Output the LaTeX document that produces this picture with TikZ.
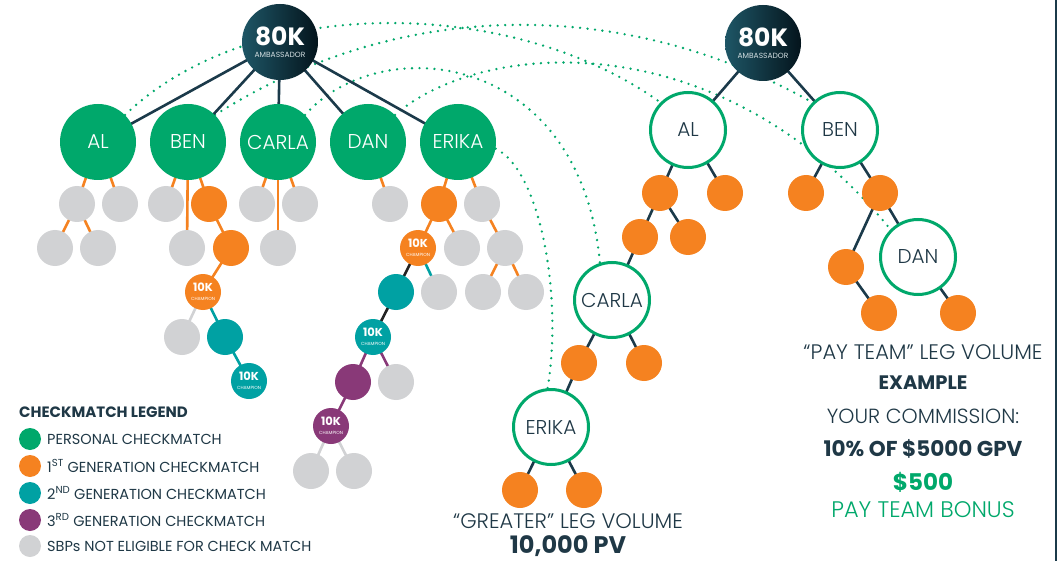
\documentclass[tikz,border=0pt]{standalone}
\usepackage{fontspec}
\setmainfont{Poppins}
\IfFontExistsTF{Poppins Light}{\newfontfamily\lightfont{Poppins Light}}{\newfontfamily\lightfont{Poppins}}
\definecolor{cgreen}{RGB}{0,168,107}
\definecolor{corange}{RGB}{245,130,32}
\definecolor{cteal}{RGB}{0,161,163}
\definecolor{cpurple}{RGB}{137,57,120}
\definecolor{cgray}{RGB}{209,210,212}
\definecolor{cnavy}{RGB}{27,58,74}
\definecolor{ctext}{RGB}{31,56,70}
\definecolor{ambA}{RGB}{30,86,102}
\definecolor{ambB}{RGB}{4,20,28}
\definecolor{cblack}{RGB}{35,35,35}
\pgfdeclarelayer{bg}
\pgfsetlayers{bg,main}
\tikzset{
  sm/.style={circle, minimum size=36pt, inner sep=0pt},
  gy/.style={sm, fill=cgray},
  og/.style={sm, fill=corange},
  tl/.style={sm, fill=cteal},
  pu/.style={sm, fill=cpurple},
  champ/.style={align=center, text=white},
  gn/.style={circle, minimum size=76pt, inner sep=0pt, fill=cgreen, text=white, font=\lightfont\fontsize{20}{20}\selectfont},
  ring/.style={circle, minimum size=75pt, inner sep=0pt, fill=white, draw=cgreen, line width=3pt, text=ctext, font=\lightfont\fontsize{20}{20}\selectfont},
  amb/.style={circle, minimum size=76pt, inner sep=0pt, left color=ambA, right color=ambB, align=center, text=white},
  ledge/.style={line width=2.6pt},
  oe/.style={ledge, corange},
  ge/.style={ledge, cgray},
  te/.style={ledge, cteal},
  pe/.style={ledge, cpurple},
  ke/.style={ledge, cblack},
  ne/.style={ledge, cnavy},
  greendots/.style={cgreen, line width=2.6pt, line cap=round, dash pattern=on 0pt off 7.5pt},
  lgc/.style={circle, minimum size=22pt, inner sep=0pt},
  lgt/.style={anchor=west, text=ctext, font=\fontsize{14.5}{15}\selectfont, inner sep=0pt},
  txt/.style={text=ctext, inner sep=0pt},
}
\newcommand{\ambtext}{{\fontsize{25}{25}\selectfont\bfseries 80K}\\[0pt]{\fontsize{7.5}{8}\selectfont\color{white!80!ambA}AMBASSADOR}}
\newcommand{\champtext}{{\fontsize{11.5}{11.5}\selectfont\bfseries 10K}\\[-3pt]{\fontsize{4.5}{5}\selectfont CHAMPION}}
\begin{document}
\begin{tikzpicture}[x=1pt,y=-1pt]
\useasboundingbox (0,0) rectangle (1059,561);
% ---------- left tree ----------
\node[amb] (amL) at (280,42) {\ambtext};
\node[gn] (lAL) at (98,142) {AL};
\node[gn] (lBEN) at (188,142) {BEN};
\node[gn] (lCARLA) at (278,142) {CARLA};
\node[gn] (lDAN) at (368,142) {DAN};
\node[gn] (lERIKA) at (458,142) {ERIKA};
% AL
\node[gy] (a1) at (77,204) {};
\node[gy] (a2) at (120,204) {};
\node[gy] (a3) at (55,248) {};
\node[gy] (a4) at (98,248) {};
% BEN
\node[gy] (b1) at (166,204) {};
\node[gy] (b2) at (187,248) {};
\node[og] (b3) at (209,204) {};
\node[og] (b4) at (231,248) {};
\node[og,champ] (b5) at (203,292) {\champtext};
\node[gy] (b6) at (182,337) {};
\node[tl] (b7) at (225,337) {};
\node[tl,champ] (b8) at (249,381) {\champtext};
% CARLA
\node[gy] (c1) at (257,204) {};
\node[gy] (c2) at (300,204) {};
\node[gy] (c3) at (278,248) {};
% DAN
\node[gy] (d1) at (390,204) {};
% ERIKA
\node[og] (e1) at (439,204) {};
\node[gy] (e2) at (482,204) {};
\node[og,champ] (e3) at (418,248) {\champtext};
\node[gy] (e4) at (462,248) {};
\node[gy] (e5) at (505,248) {};
\node[tl] (e6) at (396,292) {};
\node[gy] (e7) at (439,292) {};
\node[gy] (e8) at (483,292) {};
\node[gy] (e9) at (526,292) {};
\node[tl,champ] (e10) at (373,337) {\champtext};
\node[pu] (e11) at (353,382) {};
\node[gy] (e12) at (396,382) {};
\node[pu,champ] (e13) at (331,426) {\champtext};
\node[gy] (e14) at (311,471) {};
\node[gy] (e15) at (354,471) {};
% ---------- right tree ----------
\node[amb] (amR) at (763,43) {\ambtext};
\node[ring] (rAL) at (688,130) {AL};
\node[ring] (rBEN) at (840,130) {BEN};
\node[og] (ra1) at (660,193) {};
\node[og] (ra2) at (725,193) {};
\node[og] (ra3) at (640,237) {};
\node[og] (ra4) at (688,237) {};
\node[ring] (rCARLA) at (612,300) {CARLA};
\node[og] (rc1) at (579,363) {};
\node[og] (rc2) at (644,363) {};
\node[ring] (rERIKA) at (551,427) {ERIKA};
\node[og] (re1) at (520,490) {};
\node[og] (re2) at (584,490) {};
\node[og] (rb1) at (806,193) {};
\node[og] (rb2) at (880,193) {};
\node[og] (rb3) at (846,267) {};
\node[ring] (rDAN) at (918,257) {DAN};
\node[og] (rb4) at (879,313) {};
\node[og] (rd1) at (958,313) {};
% ---------- texts ----------
\node[txt, font=\lightfont\fontsize{21}{21}\selectfont] (t1) at (923,352) {“PAY TEAM” LEG VOLUME};
\node[txt, font=\fontsize{19.5}{19.5}\selectfont\bfseries] (t2) at (923,383) {EXAMPLE};
\node[txt, font=\lightfont\fontsize{20.5}{20.5}\selectfont] (t3) at (923,416) {YOUR COMMISSION:};
\node[txt, font=\fontsize{21.5}{21.5}\selectfont\bfseries] (t4) at (923,449) {10\% OF \$5000 GPV};
\node[txt, text=cgreen, font=\fontsize{23}{23}\selectfont\bfseries] (t5) at (923,482) {\$500};
\node[txt, text=cgreen, font=\lightfont\fontsize{22.5}{22.5}\selectfont] (t6) at (923,510) {PAY TEAM BONUS};
\node[txt, font=\lightfont\fontsize{21}{21}\selectfont] (t7) at (568,521) {“GREATER” LEG VOLUME};
\node[txt, font=\fontsize{24}{24}\selectfont\bfseries] (t8) at (568,546) {10,000 PV};
% ---------- legend ----------
\node[txt, anchor=west, font=\fontsize{15}{15}\selectfont\bfseries] (lgh) at (19,412) {CHECKMATCH LEGEND};
\node[lgc, fill=cgreen] (lg1) at (30,439) {};
\node[lgc, fill=corange] (lg2) at (30,466) {};
\node[lgc, fill=cteal] (lg3) at (30,493) {};
\node[lgc, fill=cpurple] (lg4) at (30,520) {};
\node[lgc, fill=cgray] (lg5) at (30,546) {};
\node[lgt] (lt1) at (47,439) {PERSONAL CHECKMATCH};
\node[lgt] (lt2) at (47,466) {1\textsuperscript{ST} GENERATION CHECKMATCH};
\node[lgt] (lt3) at (47,493) {2\textsuperscript{ND} GENERATION CHECKMATCH};
\node[lgt] (lt4) at (47,520) {3\textsuperscript{RD} GENERATION CHECKMATCH};
\node[lgt] (lt5) at (47,546) {SBPs NOT ELIGIBLE FOR CHECK MATCH};
% ---------- background layer: connectors ----------
\begin{pgfonlayer}{bg}
\fill[white] (0,0) rectangle (1059,561);
\draw[cnavy, line width=2pt] (1056,0) -- (1056,561);
% dotted curves
\draw[greendots] (lAL.45) .. controls (254,-9) and (516,-2) .. (rAL.135);
\draw[greendots] (lBEN.45) .. controls (400,-3) and (625,-3) .. (rBEN.135);
\draw[greendots] (lCARLA.45) .. controls (380,30) and (580,50) .. (rCARLA.108);
\draw[greendots] (lDAN.45) .. controls (480,40) and (720,20) .. (rDAN.135);
\draw[greendots] (lERIKA.-10) .. controls (540,170) and (563,295) .. (rERIKA.95);
% left tree edges
\foreach \n in {lAL,lBEN,lCARLA,lDAN,lERIKA} \draw[ne] (amL.center) -- (\n.center);
\foreach \a/\b in {lAL/a1,lAL/a2,a1/a3,a1/a4,lBEN/b1,lBEN/b2,lBEN/b3,b3/b4,b4/b5,lCARLA/c1,lCARLA/c2,lCARLA/c3,lDAN/d1,lERIKA/e1,lERIKA/e2,e1/e3,e1/e4,e2/e5,e5/e8,e5/e9}
  \draw[oe] (\a.center) -- (\b.center);
\foreach \a/\b in {b5/b6,e13/e14,e13/e15} \draw[ge] (\a.center) -- (\b.center);
\foreach \a/\b in {b5/b7,b7/b8,e3/e7} \draw[te] (\a.center) -- (\b.center);
\foreach \a/\b in {e3/e6,e6/e10} \draw[ke] (\a.center) -- (\b.center);
\foreach \a/\b in {e10/e11,e10/e12,e11/e13} \draw[pe] (\a.center) -- (\b.center);
% right tree edges
\foreach \a/\b in {amR/rAL,amR/rBEN,rAL/ra1,rAL/ra2,ra1/ra3,ra1/ra4,ra3/rCARLA,rCARLA/rc1,rCARLA/rc2,rc1/rERIKA,rERIKA/re1,rERIKA/re2,rBEN/rb1,rBEN/rb2,rb2/rb3,rb2/rDAN,rb3/rb4,rDAN/rd1}
  \draw[ne] (\a.center) -- (\b.center);
\end{pgfonlayer}
\end{tikzpicture}
\end{document}
